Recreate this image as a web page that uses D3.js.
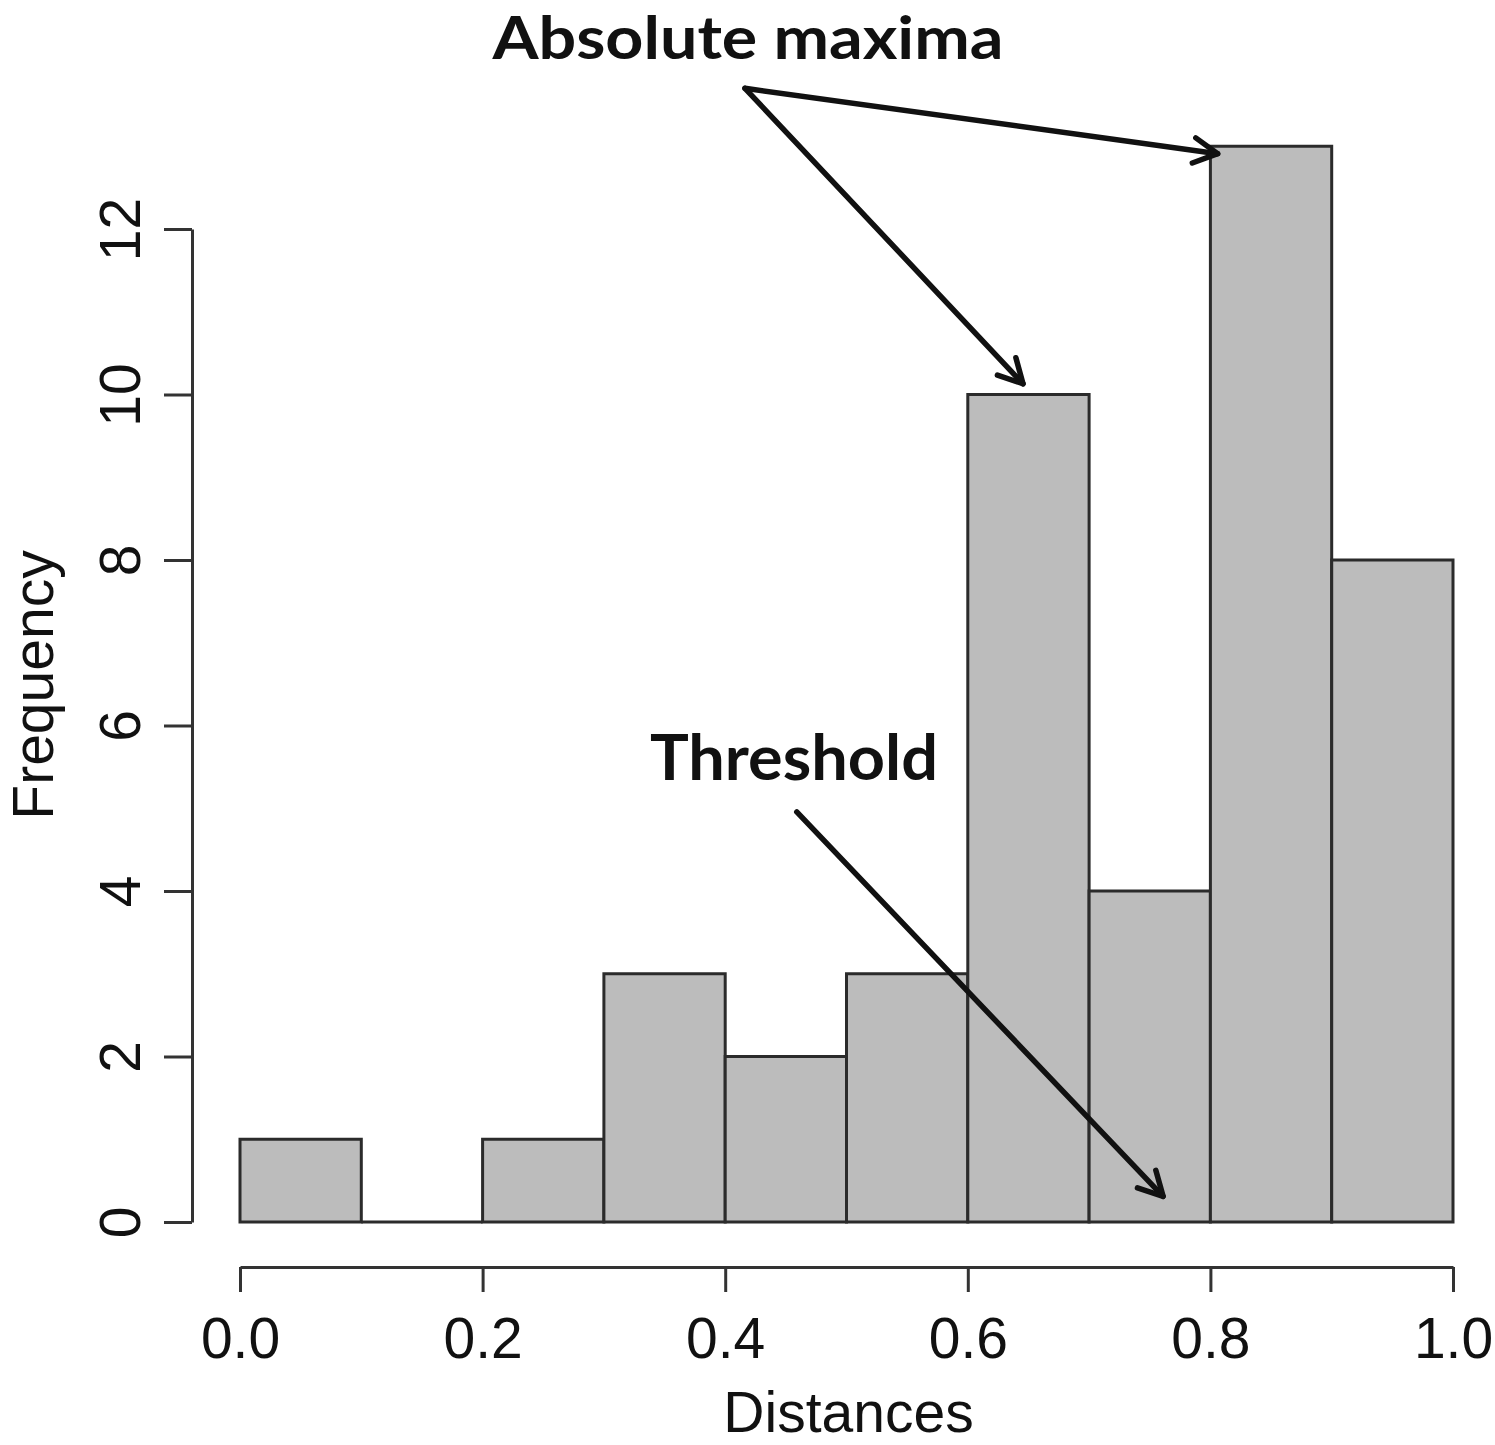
<!DOCTYPE html>
<html>
<head>
<meta charset="utf-8">
<script src="https://cdn.jsdelivr.net/npm/d3@7"></script>
<style>
html,body{margin:0;padding:0;background:#fff;}
svg{display:block;}
</style>
</head>
<body>
<svg id="chart" width="1495" height="1445"></svg>
<script>
// ---- data ----
const binStarts = [0.0, 0.1, 0.2, 0.3, 0.4, 0.5, 0.6, 0.7, 0.8, 0.9];
const binWidth = 0.1;
const frequencies = [1, 0, 1, 3, 2, 3, 10, 4, 13, 8];
const xTicks = [0.0, 0.2, 0.4, 0.6, 0.8, 1.0];
const yTicks = [0, 2, 4, 6, 8, 10, 12];
const xLabel = "Distances";
const yLabel = "Frequency";
// annotations in data coordinates
const annotationTexts = ["Absolute maxima", "Threshold"];
const annotationTextPos = [[0.4188, 14.06], [0.4567, 5.34]];
const annotationTextWidth = [511, 288];
const arrowFrom = [[0.4163, 13.70], [0.4163, 13.70], [0.459, 4.955]];
const arrowTo = [[0.806, 12.91], [0.6455, 10.13], [0.761, 0.31]];

// ---- layout ----
const svg = d3.select("#chart");
const x = d3.scaleLinear().domain([0, 1]).range([240, 1453]);
const y = d3.scaleLinear().domain([0, 12]).range([1222, 229]);
const axisColor = "#333";
const textColor = "#111";
const font = "'Liberation Sans', Arial, sans-serif";

// bars (drawn as closed paths so that zero-height bins still show their outline)
svg.append("g").selectAll("path")
  .data(binStarts.map((s, i) => ({s, v: frequencies[i]})))
  .join("path")
  .attr("d", d => {
    const x0 = x(d.s), x1 = x(d.s + binWidth), y0 = y(0), y1 = y(d.v);
    return `M${x0},${y0}L${x0},${y1}L${x1},${y1}L${x1},${y0}Z`;
  })
  .attr("fill", "#bcbcbc")
  .attr("stroke", "#2b2b2b")
  .attr("stroke-width", 3)
  .attr("stroke-linejoin", "miter");

// x axis
const gx = svg.append("g")
  .attr("transform", "translate(0,1267)")
  .call(d3.axisBottom(x).tickValues(xTicks).tickFormat(d3.format(".1f")).tickSize(25).tickSizeOuter(0));
gx.select(".domain").attr("stroke", axisColor).attr("stroke-width", 3);
gx.selectAll(".tick line").attr("stroke", axisColor).attr("stroke-width", 3);
gx.selectAll(".tick text")
  .attr("y", 91).attr("dy", 0)
  .attr("font-size", 57).attr("font-family", font).attr("fill", textColor);

// y axis
const gy = svg.append("g")
  .attr("transform", "translate(192,0)")
  .call(d3.axisLeft(y).tickValues(yTicks).tickSize(28).tickSizeOuter(0));
gy.select(".domain").attr("stroke", axisColor).attr("stroke-width", 3);
gy.selectAll(".tick line").attr("stroke", axisColor).attr("stroke-width", 3);
gy.selectAll(".tick text")
  .attr("x", 0).attr("dy", 0)
  .attr("text-anchor", "middle")
  .attr("transform", "translate(-52,0) rotate(-90)")
  .attr("font-size", 57).attr("font-family", font).attr("fill", textColor);

// axis labels
svg.append("text")
  .attr("x", (x(0) + x(1)) / 2 + 2).attr("y", 1432)
  .attr("text-anchor", "middle")
  .attr("font-size", 57).attr("font-family", font).attr("fill", textColor)
  .text(xLabel);
svg.append("text")
  .attr("transform", `translate(53,${685}) rotate(-90)`)
  .attr("text-anchor", "middle")
  .attr("font-size", 57).attr("font-family", font).attr("fill", textColor)
  .text(yLabel);

// annotations
svg.append("g").selectAll("text")
  .data(annotationTexts)
  .join("text")
  .attr("x", (d, i) => x(annotationTextPos[i][0]))
  .attr("y", (d, i) => y(annotationTextPos[i][1]))
  .attr("text-anchor", "middle")
  .attr("font-family", "Lato, 'Open Sans', sans-serif")
  .attr("font-weight", 700)
  .attr("font-size", (d, i) => i === 0 ? 60 : 63)
  .attr("textLength", (d, i) => annotationTextWidth[i])
  .attr("lengthAdjust", "spacingAndGlyphs")
  .attr("fill", "#111")
  .text(d => d);

// arrows
const arrowG = svg.append("g")
  .attr("stroke", "#111").attr("stroke-width", 5.5)
  .attr("stroke-linecap", "round").attr("stroke-linejoin", "round").attr("fill", "none");
arrowFrom.forEach((f, i) => {
  const x0 = x(f[0]), y0 = y(f[1]), x1 = x(arrowTo[i][0]), y1 = y(arrowTo[i][1]);
  const ang = Math.atan2(y1 - y0, x1 - x0);
  const L = 27, a = 28 * Math.PI / 180;
  const p1 = [x1 - L * Math.cos(ang - a), y1 - L * Math.sin(ang - a)];
  const p2 = [x1 - L * Math.cos(ang + a), y1 - L * Math.sin(ang + a)];
  arrowG.append("path").attr("d", `M${x0},${y0}L${x1},${y1}`);
  arrowG.append("path").attr("d", `M${p1[0]},${p1[1]}L${x1},${y1}L${p2[0]},${p2[1]}`);
});
</script>
</body>
</html>
